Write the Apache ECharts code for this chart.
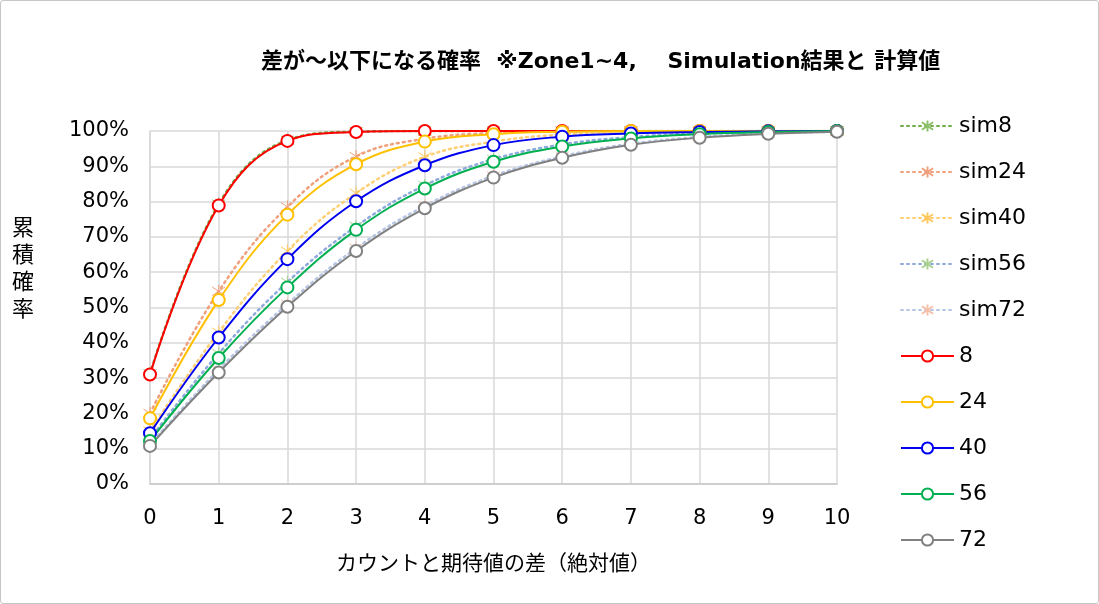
<!DOCTYPE html>
<html>
<head>
<meta charset="utf-8">
<script src="https://cdn.jsdelivr.net/npm/echarts@6/dist/echarts.min.js"></script>
<style>
html, body { margin: 0; padding: 0; background: #fff; }
#chart { width: 1099px; height: 604px; box-sizing: border-box; border: 1px solid #c6c6c6; border-radius: 3px; }
</style>
</head>
<body>
<div id="chart"></div>
<script>
var xValues = [0, 1, 2, 3, 4, 5, 6, 7, 8, 9, 10];

// simulation results (%)
var sim8  = [31.2, 79.3, 97.4, 99.8, 100, 100, 100, 100, 100, 100, 100];
var sim24 = [20.0, 54.6, 78.5, 92.8, 97.8, 99.4, 99.9, 100, 100, 100, 100];
var sim40 = [15.0, 43.0, 66.0, 82.4, 92.7, 97.0, 99.0, 99.7, 100, 100, 100];
var sim56 = [12.8, 37.0, 57.2, 73.0, 84.6, 92.0, 96.2, 98.3, 99.3, 99.8, 100];
var sim72 = [11.2, 32.4, 51.0, 66.8, 78.8, 87.3, 92.8, 96.4, 98.3, 99.3, 99.8];

// calculated values (%)
var calc8  = [31.0, 78.9, 97.2, 99.7, 100, 100, 100, 100, 100, 100, 100];
var calc24 = [18.6, 52.1, 76.3, 90.6, 97.0, 99.1, 99.8, 100, 100, 100, 100];
var calc40 = [14.4, 41.5, 63.7, 80.1, 90.3, 96.0, 98.4, 99.3, 99.7, 99.9, 100];
var calc56 = [12.2, 35.7, 55.7, 72.0, 83.7, 91.3, 95.6, 97.9, 99.1, 99.7, 100];
var calc72 = [10.8, 31.6, 50.2, 66.0, 78.1, 86.8, 92.4, 96.1, 98.1, 99.2, 99.8];

var simNames = ['sim8', 'sim24', 'sim40', 'sim56', 'sim72'];
var simData = [sim8, sim24, sim40, sim56, sim72];
var simLine = ['#70AD47', '#F0A07C', '#FFCF75', '#8FAADC', '#B8C6E6'];
var simMark = ['#8CC06A', '#F0A07C', '#FFC65A', '#A9D18E', '#F5BFA8'];

var calcNames = ['8', '24', '40', '56', '72'];
var calcData = [calc8, calc24, calc40, calc56, calc72];
var calcColor = ['#FF0000', '#FFC000', '#0000F0', '#00B050', '#808080'];

var FONT = "'DejaVu Sans', 'Noto Sans CJK JP', sans-serif";
var STAR = 'path://M0,-6L0,6M-5,-4L5,4M-5,4L5,-4';

function pairs(arr) {
    return arr.map(function (v, i) { return [xValues[i], v]; });
}

var series = [];
simNames.forEach(function (name, i) {
    series.push({
        name: name,
        type: 'line',
        smooth: 0.4,
        data: pairs(simData[i]),
        symbol: STAR,
        symbolSize: 13,
        z: 2,
        lineStyle: { color: simLine[i], width: 2.5, type: [2, 4], cap: 'round' },
        itemStyle: { color: 'rgba(0,0,0,0)', borderColor: simMark[i], borderWidth: 1 }
    });
});
calcNames.forEach(function (name, i) {
    series.push({
        name: name,
        type: 'line',
        smooth: 0.4,
        data: pairs(calcData[i]),
        symbol: 'emptyCircle',
        symbolSize: 12,
        z: 3,
        lineStyle: { color: calcColor[i], width: 2 },
        itemStyle: { color: calcColor[i], borderColor: calcColor[i], borderWidth: 1.6 }
    });
});

var myChart = echarts.init(document.getElementById('chart'));
myChart.setOption({
    animation: false,
    title: {
        text: '差が～以下になる確率  ※Zone1~4,    Simulation結果と 計算値',
        left: 255,
        top: 45,
        textStyle: { fontFamily: FONT, fontSize: 22, fontWeight: 'bold', color: '#000' }
    },
    legend: {
        orient: 'vertical',
        left: 894,
        top: 108,
        itemWidth: 53,
        itemHeight: 14,
        itemGap: 22,
        textStyle: { fontFamily: FONT, fontSize: 22, color: '#000', lineHeight: 24 },
        data: simNames.concat(calcNames)
    },
    grid: { left: 149, right: 261, top: 130, bottom: 119 },
    xAxis: {
        type: 'value',
        min: 0,
        max: 10,
        interval: 1,
        name: 'カウントと期待値の差（絶対値）',
        nameLocation: 'middle',
        nameGap: 68,
        nameTextStyle: { fontFamily: "'Noto Sans CJK JP', sans-serif", fontSize: 21, color: '#000' },
        axisLine: { lineStyle: { color: '#c8c8c8', width: 1.5 } },
        axisTick: { show: false },
        axisLabel: { fontFamily: FONT, fontSize: 21, color: '#000', margin: 24 },
        splitLine: { show: true, lineStyle: { color: '#d9d9d9', width: 1.5 } }
    },
    yAxis: {
        type: 'value',
        min: 0,
        max: 100,
        interval: 10,
        axisLine: { show: true, lineStyle: { color: '#d9d9d9', width: 1.5 } },
        axisTick: { show: false },
        axisLabel: { fontFamily: FONT, fontSize: 21, color: '#000', margin: 21, formatter: '{value}%' },
        splitLine: { show: true, lineStyle: { color: '#d9d9d9', width: 1.5 } }
    },
    graphic: [{
        type: 'text',
        left: 11,
        top: 212,
        style: {
            text: '累\n積\n確\n率',
            font: "22px 'Noto Sans CJK JP', sans-serif",
            lineHeight: 27,
            fill: '#000'
        }
    }],
    series: series
});
</script>
</body>
</html>
